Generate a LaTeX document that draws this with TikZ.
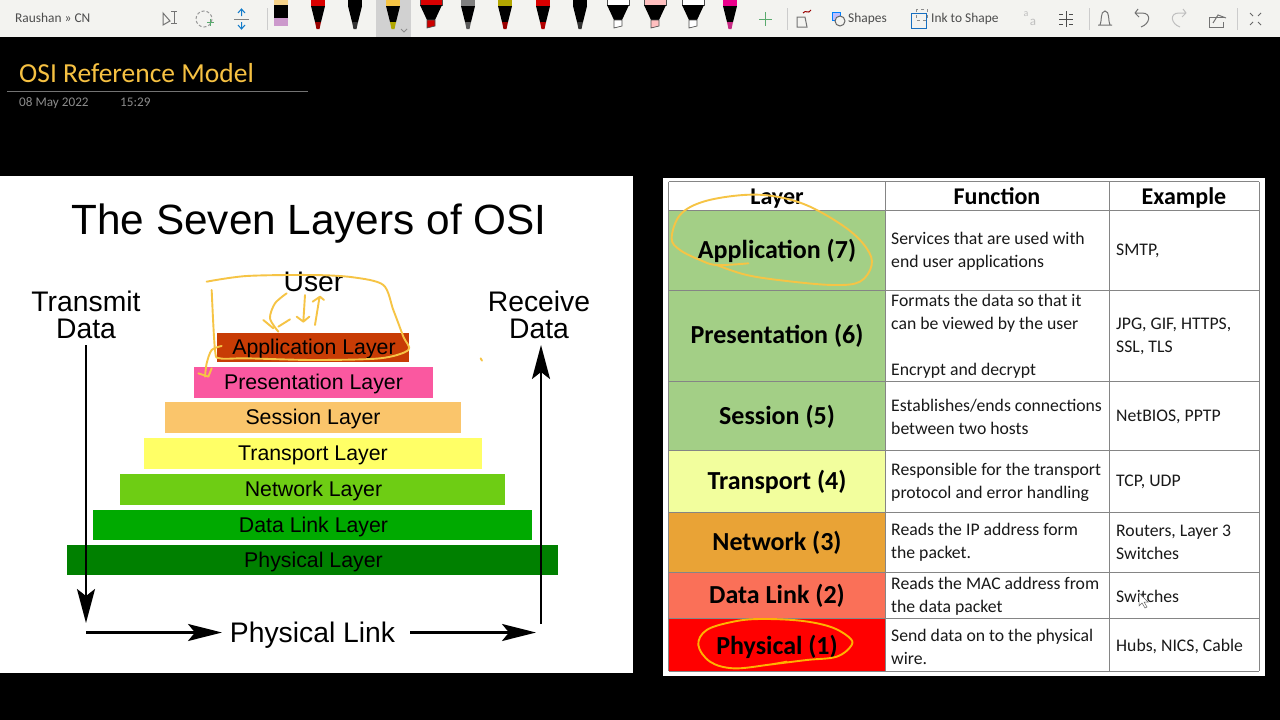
\documentclass[tikz,border=0pt]{standalone}
\usepackage{fontspec}
\setmainfont{Liberation Sans}
\newfontfamily\calf{Carlito}
\usetikzlibrary{arrows.meta}
\definecolor{ink}{HTML}{F6C445}
\definecolor{barbg}{HTML}{F3F3F0}
\definecolor{gridc}{HTML}{858585}
\definecolor{pentop}{HTML}{F6D38A}
\definecolor{plusg}{RGB}{90,170,110}
\definecolor{bar7}{RGB}{200,60,5}
\definecolor{bar6}{RGB}{250,88,160}
\definecolor{bar5}{RGB}{250,197,107}
\definecolor{bar4}{RGB}{255,255,102}
\definecolor{bar3}{RGB}{110,205,20}
\definecolor{bar2}{RGB}{0,170,0}
\definecolor{bar1}{RGB}{0,128,0}
\definecolor{tgreen}{RGB}{163,207,134}
\definecolor{tyellow}{RGB}{242,254,157}
\definecolor{torange}{RGB}{233,163,54}
\definecolor{tsalmon}{RGB}{250,112,88}
\definecolor{tred}{RGB}{255,0,0}
\tikzset{
  x=1pt,y=-1pt,
  toolt/.style={font=\calf\fontsize{13.4}{15}\selectfont,text=black!70,inner sep=0,anchor=base west},
  layerbar/.style={inner sep=0,font=\fontsize{21.3}{23}\selectfont,text=black,text depth=0pt,text height=14pt},
  sidelab/.style={inner sep=0,align=center,font=\fontsize{28.3}{27}\selectfont,text=black},
  bigarrow/.style={-{Stealth[length=34pt,width=18pt,inset=7pt]},line width=2.6pt,black},
  harrow/.style={-{Stealth[length=34pt,width=17pt,inset=7pt]},line width=2.6pt,black},
  hdr/.style={inner sep=0,anchor=base,font=\calf\bfseries\fontsize{24}{26}\selectfont},
  lay/.style={inner sep=0,font=\calf\bfseries\fontsize{26}{28}\selectfont},
  fun/.style={inner sep=0,anchor=west,align=left,font=\calf\fontsize{17.7}{23}\selectfont,text=black!90},
  inkline/.style={ink,line width=1.9pt,line cap=round,line join=round},
  icon/.style={line width=1pt,black!55}
}
% pen: x, body colour, tip colour
\newcommand{\penicon}[3]{%
  \fill[#2] (#1-7,0) rectangle (#1+7,6);
  \fill[black] (#1-7,6) -- (#1+7,6) -- (#1+3,22) -- (#1-3,22) -- cycle;
  \fill[#3] (#1-3,22) -- (#1+3,22) -- (#1+1.5,29) -- (#1-1.5,29) -- cycle;}
\newcommand{\markicon}[3]{%
  \draw[black!70,fill=#2,line width=.7pt] (#1-11,-1) rectangle (#1+11,5);
  \fill[black] (#1-11,5) -- (#1+11,5) -- (#1+4,20) -- (#1-4,20) -- cycle;
  \draw[black!70,fill=#3,line width=.7pt] (#1-4,20) -- (#1+4,20) -- (#1+4,26) -- (#1-4,28) -- cycle;}
\begin{document}
\begin{tikzpicture}
\useasboundingbox (0,0) rectangle (1280,720);
\fill[black] (0,0) rectangle (1280,720);
% toolbar
\fill[barbg] (0,0) rectangle (1280,37);
\fill[black!18] (376,0) rectangle (411,37);
\node[toolt] (user) at (15,23) {Raushan » CN};
\draw[icon] (163,13) -- (163,25) -- (170,21) -- cycle;
\draw[icon] (174,11) -- (174,23) (171,11) -- (177,11) (171,23) -- (177,23);
\draw[black!40,line width=1pt,dash pattern=on 3pt off 2pt] (204,19) circle (8);
\draw[plusg,line width=1pt] (207,22) -- (214,22) (210.5,18.5) -- (210.5,26);
\draw[black!50,line width=1pt] (234,19) -- (249,19);
\draw[cyan!60!blue,line width=1pt] (241.5,16) -- (241.5,10) (238,13) -- (241.5,9) -- (245,13)
  (241.5,22) -- (241.5,28) (238,25) -- (241.5,29) -- (245,25);
\draw[black!20] (267,8) -- (267,30);
% pens
\fill[black] (274,5) rectangle (288,18);
\fill[pentop] (274,0) rectangle (288,5);
\fill[violet!40] (274,18) rectangle (288,26);
\penicon{318}{red!85!black}{red!60!black}
\penicon{355}{black}{black!80}
\penicon{393}{ink}{olive!70!yellow}
\markicon{431}{red!85!black}{red!80!black}
\penicon{468}{gray}{gray!70!black}
\penicon{505}{orange!70!green}{red!60!black}
\penicon{543}{red!85!black}{red!70!black}
\penicon{580}{black}{black!80}
\markicon{618}{white}{white}
\markicon{655}{pink}{pink}
\markicon{693}{white}{white}
\penicon{730}{magenta}{magenta!80!black}
\draw[black!45,line width=.8pt] (407,29) -- (404,32) -- (401,29);
\draw[plusg,line width=1pt] (759,19) -- (772,19) (765.5,12) -- (765.5,26);
\draw[black!20] (787,8) -- (787,30);
\draw[icon] (797,27) -- (797,17) -- (805,17) -- (807,27) -- cycle;
\draw[red!60!black,line width=1pt] (803,13) .. controls (806,9) and (808,15) .. (811,10);
\draw[blue!50!cyan,line width=1pt,fill=blue!25] (832,12) rectangle (840,20);
\draw[black!60,line width=1pt,fill=barbg] (840,21) circle (5);
\node[toolt] (shapes) at (848,23) {Shapes};
\draw[cyan!50!blue,line width=1pt] (911,13) rectangle (926,28);
\draw[black!45,dashed] (916,9) rectangle (927,20);
\node[toolt] (inkshape) at (931,23) {Ink to Shape};
\node[inner sep=0,font=\calf\fontsize{13}{14}\selectfont,text=black!25] (tr) at (1033,22) {a};
\node[inner sep=0,font=\calf\fontsize{10}{12}\selectfont,text=black!25] (tr2) at (1026,14) {a};
\draw[black!70,line width=.9pt] (1059,19) -- (1073,19) (1066,11) -- (1066,27)
  (1059,14) -- (1063,14) (1069,14) -- (1073,14) (1059,24) -- (1063,24) (1069,24) -- (1073,24);
\draw[black!20] (1089,8) -- (1089,30);
\draw[icon] (1098,25) -- (1112,25) (1100,25) .. controls (1102,22) and (1100,11) .. (1105,11) .. controls (1110,11) and (1108,22) .. (1110,25);
\draw[icon] (1135,13) -- (1142,13) .. controls (1152,13) and (1150,24) .. (1141,27) (1135,13) -- (1138,9) (1135,13) -- (1139,17);
\draw[black!25,line width=1pt] (1186,13) -- (1179,13) .. controls (1169,13) and (1171,24) .. (1180,27) (1186,13) -- (1183,9) (1186,13) -- (1182,17);
\draw[icon] (1225,17) -- (1209,17) -- (1209,27) -- (1223,27) -- (1223,22);
\draw[icon] (1213,23) -- (1218,15) -- (1226,18);
\draw[black!20] (1237,8) -- (1237,30);
\draw[black!60,line width=.9pt] (1250,13) -- (1253,16) (1261,13) -- (1258,16) (1250,25) -- (1253,22) (1261,25) -- (1258,22);
% title
\node[inner sep=0,anchor=west,text=ink!95!orange,font=\calf\fontsize{27.5}{29}\selectfont] (title) at (19,73) {OSI Reference Model};
\coordinate (rl) at (7,91); \coordinate (rr) at (308,91);
\draw[black!55,line width=1pt] (rl) -- (rr);
\node[inner sep=0,anchor=base west,text=black!45,font=\calf\fontsize{13.2}{15}\selectfont] (date) at (19,106) {08 May 2022};
\node[inner sep=0,anchor=base west,text=black!45,font=\calf\fontsize{13.2}{15}\selectfont] (time) at (120,106) {15:29};
% left panel
\fill[white] (0,176) rectangle (633,673);
\node[inner sep=0,font=\fontsize{42.3}{44}\selectfont] (head) at (309,223.5) {The Seven Layers of OSI};
\node[sidelab] (user2) at (313.5,282) {User};
\node[sidelab] (transmit) at (86,315) {Transmit\\Data};
\node[sidelab] (receive) at (539,315) {Receive\\Data};
\node[layerbar,fill=bar7,minimum width=192,minimum height=29] (l7) at (313,347.5) {\hspace{2pt}Application Layer};
\node[layerbar,fill=bar6,minimum width=239,minimum height=31] (l6) at (313.5,382.5) {Presentation Layer};
\node[layerbar,fill=bar5,minimum width=296,minimum height=31] (l5) at (313,417.5) {Session Layer};
\node[layerbar,fill=bar4,minimum width=338,minimum height=31] (l4) at (313,453.5) {Transport Layer};
\node[layerbar,fill=bar3,minimum width=385,minimum height=31] (l3) at (312.5,489) {\hspace{2pt}Network Layer};
\node[layerbar,fill=bar2,minimum width=439,minimum height=30] (l2) at (312.5,525) {\hspace{2pt}Data Link Layer};
\node[layerbar,fill=bar1,minimum width=491,minimum height=30] (l1) at (312.5,560) {\hspace{2pt}Physical Layer};
\node[inner sep=0,font=\fontsize{28.3}{30}\selectfont] (plink) at (312.5,635) {Physical Link};
\coordinate (ta) at (86,345); \coordinate (tb) at (86,623);
\coordinate (ra) at (541,624); \coordinate (rb) at (541,345);
\coordinate (pa) at (86,632.5); \coordinate (pb) at (222,632.5);
\coordinate (pc) at (410,632.5); \coordinate (pd) at (536,632.5);
\draw[bigarrow] (ta) -- (tb);
\draw[bigarrow] (ra) -- (rb);
\draw[harrow] (pa) -- (pb);
\draw[harrow] (pc) -- (pd);
% table
\fill[white] (663,178) rectangle (1265,676);
\fill[tgreen] (669,210) rectangle (885,450);
\fill[tyellow] (669,450) rectangle (885,512);
\fill[torange] (669,512) rectangle (885,572);
\fill[tsalmon] (669,572) rectangle (885,618);
\fill[tred] (669,618) rectangle (885,671);
\foreach \y in {181.5,210,290,381,450,512,572,618,671} \draw[gridc,line width=1pt] (668.5,\y) -- (1259,\y);
\foreach \x in {668.5,885,1109,1259} \draw[gridc,line width=1pt] (\x,181.5) -- (\x,671);
\node[hdr] (hl) at (777,204) {Layer};
\node[hdr] (hf) at (997,204) {Function};
\node[hdr] (he) at (1184,204) {Example};
\node[lay] (a7) at (777,251) {Application (7)};
\node[lay] (a6) at (777,336) {Presentation (6)};
\node[lay] (a5) at (777,416.5) {Session (5)};
\node[lay] (a4) at (777,482) {Transport (4)};
\node[lay] (a3) at (777,542.5) {Network (3)};
\node[lay] (a2) at (777,596) {Data Link (2)};
\node[lay] (a1) at (777,647) {Physical (1)};
\node[fun] (f7) at (891,251) {Services that are used with\\end user applications};
\node[fun] (f6a) at (891,313.5) {Formats the data so that it\\can be viewed by the user};
\node[fun] (f6b) at (891,370.5) {Encrypt and decrypt};
\node[fun] (f5) at (891,416.5) {Establishes/ends connections\\between two hosts};
\node[fun] (f4) at (891,482) {Responsible for the transport\\protocol and error handling};
\node[fun] (f3) at (891,542.5) {Reads the IP address form\\the packet.};
\node[fun] (f2) at (891,596) {Reads the MAC address from\\the data packet};
\node[fun] (f1) at (891,646.5) {Send data on to the physical\\wire.};
\node[fun] (e7) at (1116,251) {SMTP,};
\node[fun] (e6) at (1116,336.5) {JPG, GIF, HTTPS,\\SSL, TLS};
\node[fun] (e5) at (1116,416.5) {NetBIOS, PPTP};
\node[fun] (e4) at (1116,482) {TCP, UDP};
\node[fun] (e3) at (1116,542.5) {Routers, Layer 3\\Switches};
\node[fun] (e2) at (1116,596) {Switches};
\node[fun] (e1) at (1116,646.5) {Hubs, NICS, Cable};
% cursor
\draw[black!60,fill=white,line width=.5pt] (1139,593) -- (1139,606) -- (1142,603) -- (1145,608) -- (1147,607) -- (1144,602) -- (1148,602) -- cycle;
% ink left
\begin{scope}[shift={(180,260)},scale=1/3]
\draw[inkline] plot[smooth,tension=.5] coordinates {(80,65)(200,48)(400,45)(520,52)(610,75)(640,150)(670,230)(685,270)(600,295)(400,300)(200,295)(120,295)(105,270)(95,90)};
\draw[inkline] plot[smooth] coordinates {(320,100)(285,130)(270,175)(295,215)};
\draw[inkline] (250,180) -- (280,205) (330,178) -- (295,200);
\draw[inkline] (375,105) -- (370,185) (350,170) -- (370,185) -- (388,170);
\draw[inkline] (405,195) -- (418,115) (398,125) -- (420,110) -- (432,120);
\draw[inkline] plot[smooth] coordinates {(125,258)(95,270)(80,310)(75,350)};
\draw[inkline] (55,340) -- (85,350) -- (95,325);
\draw[inkline] (902,295) -- (906,302);
\end{scope}
\begin{scope}[shift={(660,175)},scale=1/3]
\draw[inkline] plot[smooth,tension=.6] coordinates {(265,265)(170,270)(120,255)(60,225)(35,190)(60,120)(130,80)(250,60)(350,65)(450,95)(560,160)(620,220)(635,270)(600,320)(520,330)(380,318)(260,300)(170,270)};
\end{scope}
\begin{scope}[shift={(660,600)},scale=1/3]
\draw[inkline,color=orange!60!yellow] plot[smooth,tension=.6] coordinates {(380,185)(320,195)(220,205)(150,185)(115,135)(140,90)(220,65)(300,57)(420,62)(510,80)(565,110)(575,135)(530,170)(440,180)(320,195)};
\end{scope}
\end{tikzpicture}
\end{document}
